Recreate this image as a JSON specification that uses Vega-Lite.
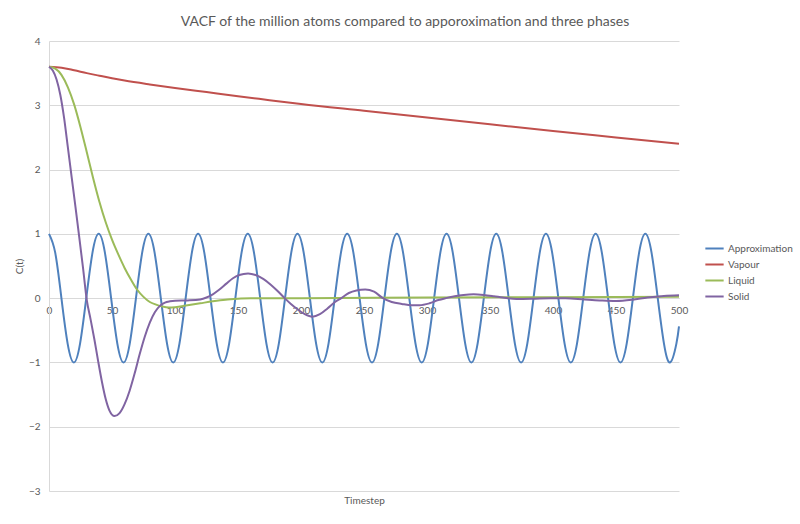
{
  "$schema": "https://vega.github.io/schema/vega-lite/v6.json",
  "autosize": "none",
  "width": 630,
  "height": 450,
  "padding": {"left": 49, "top": 41, "right": 121, "bottom": 33},
  "background": "white",
  "title": {"text": "VACF of the million atoms compared to apporoximation and three phases", "anchor": "middle", "dx": 41, "offset": 7, "fontSize": 14, "font": "Lato", "fontWeight": "normal", "color": "#595959"},
  "datasets": {
    "approx": [
      {"t":0,"c":1,"s":"Approximation"},{"t":4.93,"c":0.7071,"s":"Approximation"},{"t":9.86,"c":0,"s":"Approximation"},{"t":14.79,"c":-0.7071,"s":"Approximation"},
      {"t":19.72,"c":-1,"s":"Approximation"},{"t":24.65,"c":-0.7071,"s":"Approximation"},{"t":29.58,"c":0,"s":"Approximation"},{"t":34.51,"c":0.7071,"s":"Approximation"},
      {"t":39.44,"c":1,"s":"Approximation"},{"t":44.37,"c":0.7071,"s":"Approximation"},{"t":49.3,"c":0,"s":"Approximation"},{"t":54.23,"c":-0.7071,"s":"Approximation"},
      {"t":59.16,"c":-1,"s":"Approximation"},{"t":64.09,"c":-0.7071,"s":"Approximation"},{"t":69.02,"c":0,"s":"Approximation"},{"t":73.95,"c":0.7071,"s":"Approximation"},
      {"t":78.88,"c":1,"s":"Approximation"},{"t":83.81,"c":0.7071,"s":"Approximation"},{"t":88.74,"c":0,"s":"Approximation"},{"t":93.67,"c":-0.7071,"s":"Approximation"},
      {"t":98.6,"c":-1,"s":"Approximation"},{"t":103.53,"c":-0.7071,"s":"Approximation"},{"t":108.46,"c":0,"s":"Approximation"},{"t":113.39,"c":0.7071,"s":"Approximation"},
      {"t":118.32,"c":1,"s":"Approximation"},{"t":123.25,"c":0.7071,"s":"Approximation"},{"t":128.18,"c":0,"s":"Approximation"},{"t":133.11,"c":-0.7071,"s":"Approximation"},
      {"t":138.04,"c":-1,"s":"Approximation"},{"t":142.97,"c":-0.7071,"s":"Approximation"},{"t":147.9,"c":0,"s":"Approximation"},{"t":152.83,"c":0.7071,"s":"Approximation"},
      {"t":157.76,"c":1,"s":"Approximation"},{"t":162.69,"c":0.7071,"s":"Approximation"},{"t":167.62,"c":0,"s":"Approximation"},{"t":172.55,"c":-0.7071,"s":"Approximation"},
      {"t":177.48,"c":-1,"s":"Approximation"},{"t":182.41,"c":-0.7071,"s":"Approximation"},{"t":187.34,"c":0,"s":"Approximation"},{"t":192.27,"c":0.7071,"s":"Approximation"},
      {"t":197.2,"c":1,"s":"Approximation"},{"t":202.13,"c":0.7071,"s":"Approximation"},{"t":207.06,"c":0,"s":"Approximation"},{"t":211.99,"c":-0.7071,"s":"Approximation"},
      {"t":216.92,"c":-1,"s":"Approximation"},{"t":221.85,"c":-0.7071,"s":"Approximation"},{"t":226.78,"c":0,"s":"Approximation"},{"t":231.71,"c":0.7071,"s":"Approximation"},
      {"t":236.64,"c":1,"s":"Approximation"},{"t":241.57,"c":0.7071,"s":"Approximation"},{"t":246.5,"c":0,"s":"Approximation"},{"t":251.43,"c":-0.7071,"s":"Approximation"},
      {"t":256.36,"c":-1,"s":"Approximation"},{"t":261.29,"c":-0.7071,"s":"Approximation"},{"t":266.22,"c":0,"s":"Approximation"},{"t":271.15,"c":0.7071,"s":"Approximation"},
      {"t":276.08,"c":1,"s":"Approximation"},{"t":281.01,"c":0.7071,"s":"Approximation"},{"t":285.94,"c":0,"s":"Approximation"},{"t":290.87,"c":-0.7071,"s":"Approximation"},
      {"t":295.8,"c":-1,"s":"Approximation"},{"t":300.73,"c":-0.7071,"s":"Approximation"},{"t":305.66,"c":0,"s":"Approximation"},{"t":310.59,"c":0.7071,"s":"Approximation"},
      {"t":315.52,"c":1,"s":"Approximation"},{"t":320.45,"c":0.7071,"s":"Approximation"},{"t":325.38,"c":0,"s":"Approximation"},{"t":330.31,"c":-0.7071,"s":"Approximation"},
      {"t":335.24,"c":-1,"s":"Approximation"},{"t":340.17,"c":-0.7071,"s":"Approximation"},{"t":345.1,"c":0,"s":"Approximation"},{"t":350.03,"c":0.7071,"s":"Approximation"},
      {"t":354.96,"c":1,"s":"Approximation"},{"t":359.89,"c":0.7071,"s":"Approximation"},{"t":364.82,"c":0,"s":"Approximation"},{"t":369.75,"c":-0.7071,"s":"Approximation"},
      {"t":374.68,"c":-1,"s":"Approximation"},{"t":379.61,"c":-0.7071,"s":"Approximation"},{"t":384.54,"c":0,"s":"Approximation"},{"t":389.47,"c":0.7071,"s":"Approximation"},
      {"t":394.4,"c":1,"s":"Approximation"},{"t":399.33,"c":0.7071,"s":"Approximation"},{"t":404.26,"c":0,"s":"Approximation"},{"t":409.19,"c":-0.7071,"s":"Approximation"},
      {"t":414.12,"c":-1,"s":"Approximation"},{"t":419.05,"c":-0.7071,"s":"Approximation"},{"t":423.98,"c":0,"s":"Approximation"},{"t":428.91,"c":0.7071,"s":"Approximation"},
      {"t":433.84,"c":1,"s":"Approximation"},{"t":438.77,"c":0.7071,"s":"Approximation"},{"t":443.7,"c":0,"s":"Approximation"},{"t":448.63,"c":-0.7071,"s":"Approximation"},
      {"t":453.56,"c":-1,"s":"Approximation"},{"t":458.49,"c":-0.7071,"s":"Approximation"},{"t":463.42,"c":0,"s":"Approximation"},{"t":468.35,"c":0.7071,"s":"Approximation"},
      {"t":473.28,"c":1,"s":"Approximation"},{"t":478.21,"c":0.7071,"s":"Approximation"},{"t":483.14,"c":0,"s":"Approximation"},{"t":488.07,"c":-0.7071,"s":"Approximation"},
      {"t":493.0,"c":-1,"s":"Approximation"},{"t":497.93,"c":-0.7071,"s":"Approximation"},{"t":500,"c":-0.44,"s":"Approximation"}
    ],
    "phases": [
      {"t":0,"c":3.6,"s":"Vapour"},{"t":10,"c":3.585,"s":"Vapour"},{"t":20,"c":3.545,"s":"Vapour"},{"t":30,"c":3.5,"s":"Vapour"},
      {"t":40,"c":3.46,"s":"Vapour"},{"t":50,"c":3.42,"s":"Vapour"},{"t":60,"c":3.385,"s":"Vapour"},{"t":80,"c":3.325,"s":"Vapour"},
      {"t":100,"c":3.27,"s":"Vapour"},{"t":125,"c":3.205,"s":"Vapour"},{"t":150,"c":3.14,"s":"Vapour"},{"t":175,"c":3.08,"s":"Vapour"},
      {"t":200,"c":3.02,"s":"Vapour"},{"t":250,"c":2.915,"s":"Vapour"},{"t":300,"c":2.81,"s":"Vapour"},{"t":350,"c":2.705,"s":"Vapour"},
      {"t":400,"c":2.6,"s":"Vapour"},{"t":450,"c":2.5,"s":"Vapour"},{"t":500,"c":2.4,"s":"Vapour"},

      {"t":0,"c":3.6,"s":"Liquid"},{"t":5,"c":3.57,"s":"Liquid"},{"t":10,"c":3.47,"s":"Liquid"},{"t":15,"c":3.28,"s":"Liquid"},
      {"t":20,"c":3.01,"s":"Liquid"},{"t":25,"c":2.66,"s":"Liquid"},{"t":30,"c":2.27,"s":"Liquid"},{"t":35,"c":1.87,"s":"Liquid"},
      {"t":40,"c":1.5,"s":"Liquid"},{"t":45,"c":1.18,"s":"Liquid"},{"t":50,"c":0.91,"s":"Liquid"},{"t":55,"c":0.68,"s":"Liquid"},
      {"t":60,"c":0.47,"s":"Liquid"},{"t":65,"c":0.29,"s":"Liquid"},{"t":70,"c":0.13,"s":"Liquid"},{"t":75,"c":0.02,"s":"Liquid"},
      {"t":80,"c":-0.06,"s":"Liquid"},{"t":85,"c":-0.1,"s":"Liquid"},{"t":90,"c":-0.13,"s":"Liquid"},{"t":95,"c":-0.145,"s":"Liquid"},
      {"t":100,"c":-0.14,"s":"Liquid"},{"t":110,"c":-0.11,"s":"Liquid"},{"t":120,"c":-0.08,"s":"Liquid"},{"t":130,"c":-0.05,"s":"Liquid"},
      {"t":140,"c":-0.025,"s":"Liquid"},{"t":150,"c":-0.01,"s":"Liquid"},{"t":160,"c":0.0,"s":"Liquid"},{"t":200,"c":0.0,"s":"Liquid"},
      {"t":300,"c":0.01,"s":"Liquid"},{"t":400,"c":0.015,"s":"Liquid"},{"t":500,"c":0.02,"s":"Liquid"},

      {"t":0,"c":3.6,"s":"Solid"},{"t":3,"c":3.54,"s":"Solid"},{"t":6,"c":3.4,"s":"Solid"},{"t":9,"c":3.16,"s":"Solid"},
      {"t":12,"c":2.8,"s":"Solid"},{"t":15,"c":2.34,"s":"Solid"},{"t":18,"c":1.88,"s":"Solid"},{"t":21,"c":1.42,"s":"Solid"},
      {"t":24,"c":0.95,"s":"Solid"},{"t":27,"c":0.47,"s":"Solid"},{"t":30,"c":-0.03,"s":"Solid"},{"t":33,"c":-0.33,"s":"Solid"},
      {"t":36,"c":-0.64,"s":"Solid"},{"t":39,"c":-0.98,"s":"Solid"},{"t":42,"c":-1.3,"s":"Solid"},{"t":45,"c":-1.57,"s":"Solid"},
      {"t":48,"c":-1.75,"s":"Solid"},{"t":52,"c":-1.835,"s":"Solid"},{"t":56,"c":-1.79,"s":"Solid"},{"t":60,"c":-1.65,"s":"Solid"},
      {"t":64,"c":-1.44,"s":"Solid"},{"t":68,"c":-1.17,"s":"Solid"},{"t":72,"c":-0.87,"s":"Solid"},{"t":76,"c":-0.6,"s":"Solid"},
      {"t":80,"c":-0.38,"s":"Solid"},{"t":84,"c":-0.22,"s":"Solid"},{"t":88,"c":-0.12,"s":"Solid"},{"t":92,"c":-0.07,"s":"Solid"},
      {"t":96,"c":-0.05,"s":"Solid"},{"t":100,"c":-0.04,"s":"Solid"},{"t":110,"c":-0.035,"s":"Solid"},{"t":120,"c":-0.02,"s":"Solid"},
      {"t":125,"c":0.01,"s":"Solid"},{"t":130,"c":0.06,"s":"Solid"},{"t":135,"c":0.13,"s":"Solid"},{"t":141,"c":0.23,"s":"Solid"},
      {"t":146,"c":0.31,"s":"Solid"},{"t":151,"c":0.36,"s":"Solid"},{"t":158,"c":0.385,"s":"Solid"},{"t":164,"c":0.36,"s":"Solid"},
      {"t":170,"c":0.3,"s":"Solid"},{"t":176,"c":0.21,"s":"Solid"},{"t":181,"c":0.12,"s":"Solid"},{"t":187,"c":0.0,"s":"Solid"},
      {"t":192,"c":-0.09,"s":"Solid"},{"t":197,"c":-0.17,"s":"Solid"},{"t":203,"c":-0.25,"s":"Solid"},{"t":209,"c":-0.29,"s":"Solid"},
      {"t":215,"c":-0.25,"s":"Solid"},{"t":221,"c":-0.16,"s":"Solid"},{"t":227,"c":-0.06,"s":"Solid"},{"t":232,"c":0.0,"s":"Solid"},
      {"t":238,"c":0.08,"s":"Solid"},{"t":244,"c":0.12,"s":"Solid"},{"t":251,"c":0.135,"s":"Solid"},{"t":258,"c":0.1,"s":"Solid"},
      {"t":265,"c":0.0,"s":"Solid"},{"t":272,"c":-0.06,"s":"Solid"},{"t":280,"c":-0.09,"s":"Solid"},{"t":288,"c":-0.11,"s":"Solid"},
      {"t":294,"c":-0.11,"s":"Solid"},{"t":302,"c":-0.08,"s":"Solid"},{"t":309,"c":-0.03,"s":"Solid"},{"t":315,"c":0.0,"s":"Solid"},
      {"t":322,"c":0.03,"s":"Solid"},{"t":329,"c":0.05,"s":"Solid"},{"t":337,"c":0.06,"s":"Solid"},{"t":345,"c":0.05,"s":"Solid"},
      {"t":353,"c":0.03,"s":"Solid"},{"t":360,"c":0.01,"s":"Solid"},{"t":371,"c":-0.015,"s":"Solid"},{"t":384,"c":-0.01,"s":"Solid"},
      {"t":398,"c":0.0,"s":"Solid"},{"t":410,"c":0.0,"s":"Solid"},{"t":425,"c":-0.02,"s":"Solid"},{"t":437,"c":-0.035,"s":"Solid"},
      {"t":450,"c":-0.045,"s":"Solid"},{"t":463,"c":-0.025,"s":"Solid"},{"t":475,"c":0.01,"s":"Solid"},{"t":488,"c":0.035,"s":"Solid"},
      {"t":500,"c":0.045,"s":"Solid"}
    ]
  },
  "encoding": {
    "x": {"field": "t", "type": "quantitative", "scale": {"domain": [0, 500], "nice": false, "zero": false},
      "axis": {"title": "Timestep", "values": [0,50,100,150,200,250,300,350,400,450,500], "offset": -193, "grid": false, "ticks": false,
        "labelPadding": 7, "labelFlush": false, "titleY": 202, "titleBaseline": "middle"}},
    "y": {"field": "c", "type": "quantitative", "scale": {"domain": [-3, 4], "nice": false, "zero": false},
      "axis": {"title": "C(t)", "values": [-3,-2,-1,0,1,2,3,4], "grid": true, "ticks": false, "labelPadding": 9, "labelFlush": false, "titlePadding": 4}},
    "color": {"field": "s", "type": "nominal", "title": null,
      "scale": {"domain": ["Approximation", "Vapour", "Liquid", "Solid"], "range": ["#4F81BD", "#C0504D", "#9BBB59", "#8064A2"]}}
  },
  "layer": [
    {"data": {"name": "approx"}, "mark": {"type": "line", "interpolate": "natural", "strokeWidth": 2}},
    {"data": {"name": "phases"}, "mark": {"type": "line", "interpolate": "monotone", "strokeWidth": 2}}
  ],
  "config": {
    "view": {"stroke": null},
    "font": "Lato",
    "axis": {"labelFont": "Lato", "labelFontSize": 10, "labelColor": "#595959", "titleFont": "Lato", "titleFontSize": 10, "titleFontWeight": "normal", "titleColor": "#595959", "domainColor": "#d9d9d9", "gridColor": "#d9d9d9", "domainWidth": 1},
    "legend": {"orient": "none", "legendX": 655, "legendY": 197, "symbolType": "stroke", "symbolSize": 335, "symbolStrokeWidth": 2, "rowPadding": 0, "padding": 0, "labelFont": "Lato", "labelFontSize": 10, "labelColor": "#595959", "labelOffset": 3}
  }
}
